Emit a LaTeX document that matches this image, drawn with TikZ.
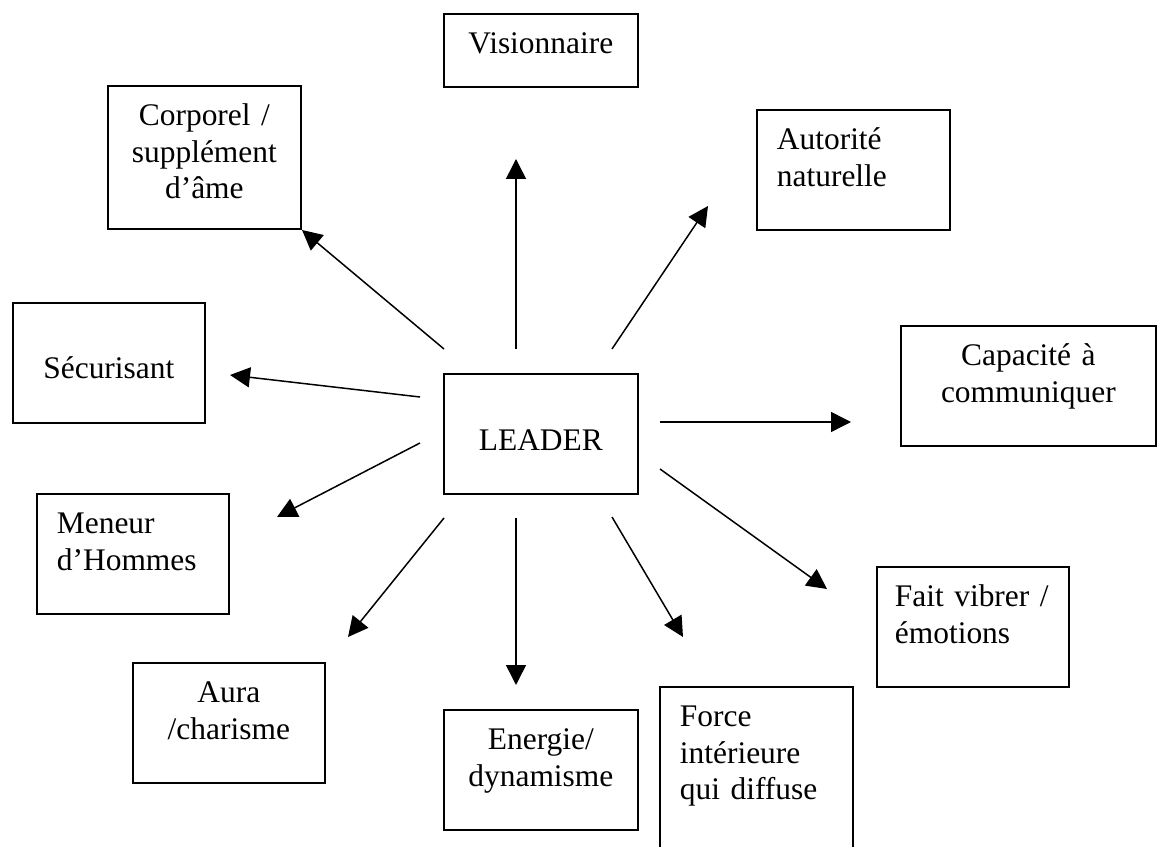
\documentclass[tikz,border=0pt]{standalone}
\usepackage{fontspec}
\setmainfont{Liberation Serif}
\usetikzlibrary{arrows.meta}

\begin{document}
\begin{tikzpicture}[
        x=0.02cm, y=-0.02cm,
        trait/.style={
            draw,
            line width=1pt,
            anchor=north west,
            inner xsep=0.4cm,
            inner ysep=0pt,
            text width=3.06cm,
            text height=0.8cm,
            text depth=1.6cm,
            align=center,
            font=\fontsize{17.9}{20.8}\selectfont
        },
        lefttext/.style={align=left},
        link/.style={-{Triangle[length=0.4cm, width=0.4cm]}, line width=0.85pt}
    ]
    \clip (0,0) rectangle (1157,847);

    \node[trait, text width=3.08cm, text depth=0.66cm] (visionnaire) at (443,13) {Visionnaire};
    \node[trait, text depth=2.06cm] (corporel) at (107,85) {Corporel /\\supplément\\d’âme};
    \node[trait, lefttext] (autorite) at (756,109) {Autorité\\naturelle};
    \node[trait, text width=3.04cm, text height=1.52cm, text depth=0.88cm] (securisant) at (12,302) {Sécurisant};
    \node[trait, text width=3.08cm, text height=1.54cm, text depth=0.86cm] (leader) at (443,373) {LEADER};
    \node[trait, text width=4.3cm] (capacite) at (900,325) {Capacité à\\communiquer};
    \node[trait, lefttext, text width=3.04cm] (meneur) at (36,493) {Meneur\\d’Hommes};
    \node[trait, lefttext, inner xsep=0.36cm, text width=3.12cm] (vibrer) at (876,566) {Fait vibrer~/\\émotions};
    \node[trait, text width=3.04cm] (aura) at (132,662) {Aura\\/charisme};
    \node[trait, text width=3.08cm] (energie) at (443,709) {Energie/\\dynamisme};
    \node[trait, lefttext, text depth=3.2cm] (force) at (659,686) {Force\\intérieure\\qui diffuse};

    % arrow ends around the central box
    \coordinate (leader-n) at (516,349);
    \coordinate (leader-nw) at (444,349);
    \coordinate (leader-ne) at (612,349);
    \coordinate (leader-w1) at (420,397);
    \coordinate (leader-w2) at (420,443);
    \coordinate (leader-sw) at (444,518);
    \coordinate (leader-s) at (516,518);
    \coordinate (leader-se) at (612,517);
    \coordinate (leader-e1) at (660,422);
    \coordinate (leader-e2) at (660,469);

    % arrow tips, left short of each box
    \coordinate (to-visionnaire) at (516,159);
    \coordinate (to-corporel) at (302,230);
    \coordinate (to-autorite) at (708,206);
    \coordinate (to-securisant) at (230,375);
    \coordinate (to-meneur) at (277,517);
    \coordinate (to-aura) at (348,637);
    \coordinate (to-energie) at (516,685);
    \coordinate (to-force) at (683,637);
    \coordinate (to-vibrer) at (827,589);
    \coordinate (to-capacite) at (851,422);

    \draw[link] (leader-n) -- (to-visionnaire);
    \draw[link] (leader-nw) -- (to-corporel);
    \draw[link] (leader-ne) -- (to-autorite);
    \draw[link] (leader-w1) -- (to-securisant);
    \draw[link] (leader-w2) -- (to-meneur);
    \draw[link] (leader-sw) -- (to-aura);
    \draw[link] (leader-s) -- (to-energie);
    \draw[link] (leader-se) -- (to-force);
    \draw[link] (leader-e2) -- (to-vibrer);
    \draw[link] (leader-e1) -- (to-capacite);
\end{tikzpicture}
\end{document}
